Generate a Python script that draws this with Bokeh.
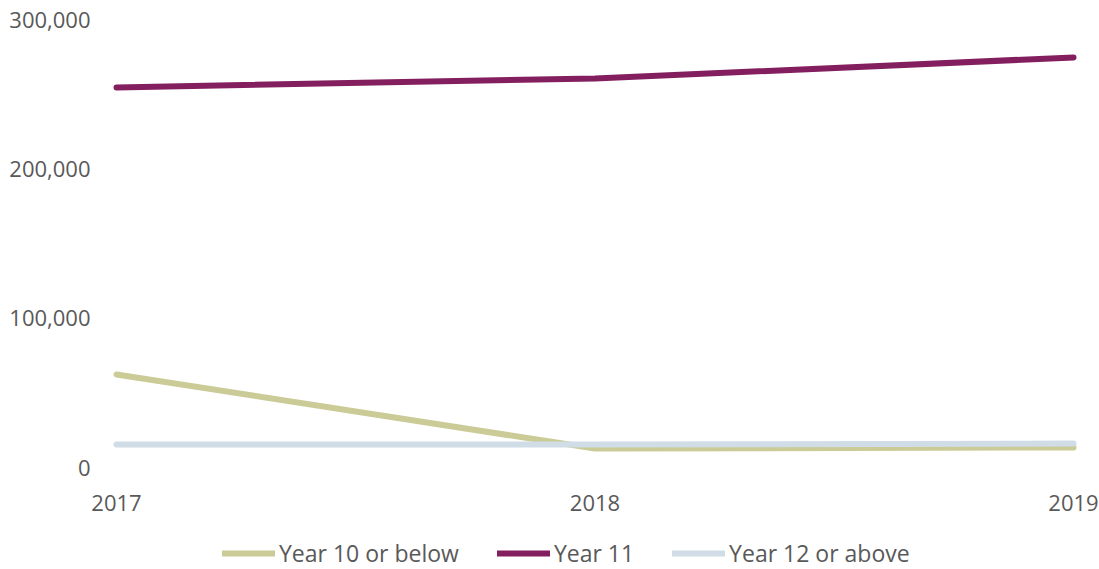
from bokeh.plotting import figure
from bokeh.models import FixedTicker, NumeralTickFormatter, Legend, LegendItem, Range1d
from bokeh.core.properties import value
from bokeh.embed import file_html
from bokeh.resources import INLINE

years = [2017, 2018, 2019]
year_labels = ["2017", "2018", "2019"]
year10_or_below = [62300, 12700, 13400]
year11 = [254500, 260500, 274600]
year12_or_above = [15400, 15400, 16000]
y_ticks = [0, 100000, 200000, 300000]

names = ["Year 10 or below", "Year 11", "Year 12 or above"]
colors = ["#CACB96", "#841F5F", "#D0DDE6"]
series = [year10_or_below, year11, year12_or_above]

FONT = "Open Sans"
TXT = "#595959"

# layout (pixels)
W, H = 1099, 569
FRAME_LEFT = 90          # left edge of the drawing frame
FIRST_X, LAST_X = 116, 1073   # where the first / last year sit
TOP = 19
ZERO_PX = 467

ymax = y_ticks[-1]
ymin = -(H - ZERO_PX) / (ZERO_PX - TOP) * ymax
px_per_year = (LAST_X - FIRST_X) / (years[-1] - years[0])
xmin = years[0] - (FIRST_X - FRAME_LEFT) / px_per_year
xmax = years[-1] + (W - LAST_X) / px_per_year

p = figure(width=W, height=H, output_backend="svg", toolbar_location=None,
           x_range=Range1d(xmin, xmax), y_range=Range1d(ymin, ymax),
           min_border_left=FRAME_LEFT, min_border_right=0, min_border_top=TOP,
           min_border_bottom=0)
p.outline_line_color = None
p.xgrid.visible = False
p.ygrid.visible = False
p.xaxis.visible = False

items = []
for name, col, vals in zip(names, colors, series):
    r = p.line(years, vals, line_color=col, line_width=6, line_cap="round")
    items.append(LegendItem(label=name, renderers=[r]))

ax = p.yaxis[0]
ax.axis_line_color = None
ax.major_tick_line_color = None
ax.minor_tick_line_color = None
ax.major_tick_in = 0
ax.major_tick_out = 0
ax.major_label_text_font = FONT
ax.major_label_text_font_size = "22px"
ax.major_label_text_color = TXT
ax.major_label_standoff = 0
ax.ticker = FixedTicker(ticks=y_ticks)
ax.formatter = NumeralTickFormatter(format="0,0")

# year labels under the zero line
p.text(x=years, y=[0] * len(years), text=year_labels, y_offset=35,
       text_align="center", text_baseline="middle",
       text_font=value(FONT), text_font_size="22px", text_color=TXT)

legend = Legend(items=items, orientation="horizontal",
                location=(222 - FRAME_LEFT, 0),
                glyph_width=53, glyph_height=20, label_standoff=4, spacing=38,
                label_height=20,
                label_text_font=FONT, label_text_font_size="23px",
                label_text_color=TXT, border_line_color=None,
                background_fill_alpha=0, padding=0, margin=0)
p.add_layout(legend, "center")

open("out.html", "w").write(file_html(p, INLINE))
